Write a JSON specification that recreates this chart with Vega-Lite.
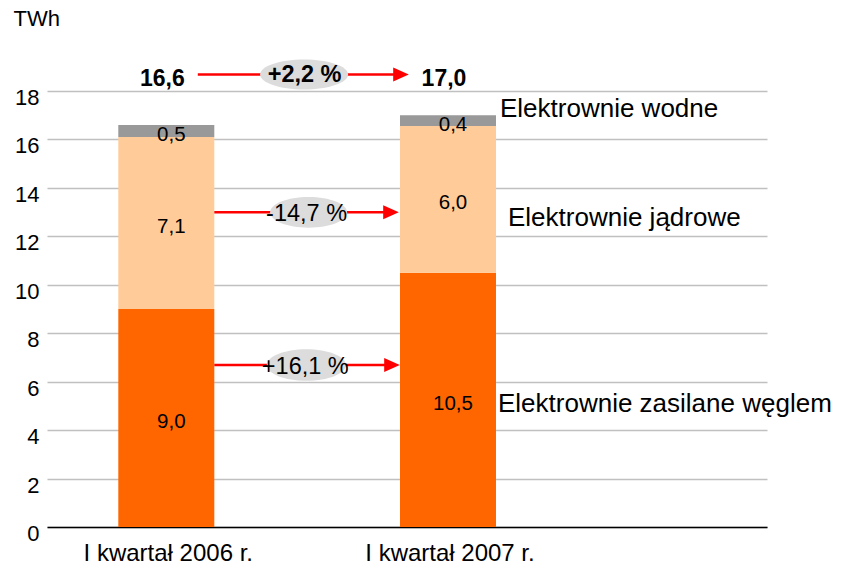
{
  "$schema": "https://vega.github.io/schema/vega-lite/v6.json",
  "width": 720,
  "height": 436,
  "autosize": {"type": "none"},
  "padding": {"top": 91, "left": 47, "right": 75, "bottom": 40},
  "background": "white",
  "config": {
    "view": {"stroke": null},
    "font": "Liberation Sans",
    "text": {"font": "Liberation Sans", "color": "#000000"}
  },
  "datasets": {
    "bars": [
      {"period": "I kwartał 2006 r.", "series": "Elektrownie zasilane węglem", "order": 1, "value": 9.0, "label": "9,0"},
      {"period": "I kwartał 2006 r.", "series": "Elektrownie jądrowe", "order": 2, "value": 7.1, "label": "7,1"},
      {"period": "I kwartał 2006 r.", "series": "Elektrownie wodne", "order": 3, "value": 0.5, "label": "0,5"},
      {"period": "I kwartał 2007 r.", "series": "Elektrownie zasilane węglem", "order": 1, "value": 10.5, "label": "10,5"},
      {"period": "I kwartał 2007 r.", "series": "Elektrownie jądrowe", "order": 2, "value": 6.05, "label": "6,0"},
      {"period": "I kwartał 2007 r.", "series": "Elektrownie wodne", "order": 3, "value": 0.45, "label": "0,4"}
    ],
    "totals": [
      {"period": "I kwartał 2006 r.", "total": "16,6"},
      {"period": "I kwartał 2007 r.", "total": "17,0"}
    ],
    "changes": [
      {"key": "total", "from": "I kwartał 2006 r.", "to": "I kwartał 2007 r.", "change": "+2,2 %"},
      {"key": "nuclear", "from": "I kwartał 2006 r.", "to": "I kwartał 2007 r.", "change": "-14,7 %"},
      {"key": "coal", "from": "I kwartał 2006 r.", "to": "I kwartał 2007 r.", "change": "+16,1 %"}
    ],
    "series": [
      {"period": "I kwartał 2007 r.", "name": "Elektrownie wodne"},
      {"period": "I kwartał 2007 r.", "name": "Elektrownie jądrowe"},
      {"period": "I kwartał 2007 r.", "name": "Elektrownie zasilane węglem"}
    ]
  },
  "encoding": {
    "x": {
      "field": "period",
      "type": "nominal",
      "scale": {"type": "band", "domain": ["I kwartał 2006 r.", "I kwartał 2007 r."], "paddingInner": 0.6592, "paddingOuter": 0.6076, "align": 0.2083, "round": false},
      "axis": {
        "title": null,
        "labelAngle": 0,
        "labelFontSize": 24,
        "labelColor": "#000000",
        "labelFont": "Liberation Sans",
        "labelPadding": 14,
        "labelBaseline": "top",
        "labelOffset": 2,
        "ticks": false,
        "domainColor": "#000000",
        "domainWidth": 1.5,
        "grid": false
      }
    }
  },
  "layer": [
    {
      "data": {"name": "bars"},
      "mark": {"type": "bar"},
      "encoding": {
        "y": {
          "field": "value",
          "type": "quantitative",
          "stack": "zero",
          "scale": {"domain": [0, 18], "nice": false},
          "axis": {
            "values": [0, 2, 4, 6, 8, 10, 12, 14, 16, 18],
            "title": "TWh",
            "titleAngle": 0,
            "titleAlign": "left",
            "titleBaseline": "top",
            "titleX": -34,
            "titleY": -82.5,
            "titleFontSize": 22,
            "titleFontWeight": "normal",
            "titleFont": "Liberation Sans",
            "titleColor": "#000000",
            "labelFontSize": 22,
            "labelFont": "Liberation Sans",
            "labelColor": "#000000",
            "labelPadding": 8,
            "labelOffset": 6.5,
            "ticks": false,
            "domain": false,
            "gridColor": "#c0c0c0",
            "gridWidth": 1.3
          }
        },
        "order": {"field": "order", "type": "quantitative"},
        "color": {
          "field": "series",
          "type": "nominal",
          "scale": {"domain": ["Elektrownie zasilane węglem", "Elektrownie jądrowe", "Elektrownie wodne"], "range": ["#ff6600", "#ffcc99", "#999999"]},
          "legend": null
        }
      }
    },
    {
      "data": {"name": "bars"},
      "transform": [
        {"stack": "value", "groupby": ["period"], "sort": [{"field": "order"}], "as": ["y0", "y1"]},
        {"calculate": "(datum.y0 + datum.y1) / 2", "as": "mid"}
      ],
      "mark": {"type": "text", "fontSize": 20.5, "dx": 5, "dy": 4, "baseline": "middle", "align": "center"},
      "encoding": {
        "y": {"field": "mid", "type": "quantitative"},
        "text": {"field": "label"}
      }
    },
    {
      "data": {"name": "totals"},
      "mark": {"type": "text", "fontSize": 23, "fontWeight": "bold", "dx": -4, "baseline": "middle", "align": "center"},
      "encoding": {
        "y": {"datum": 18.5, "type": "quantitative"},
        "text": {"field": "total"}
      }
    },
    {
      "data": {"name": "series"},
      "transform": [{"filter": "datum.name === 'Elektrownie wodne'"}],
      "mark": {"type": "text", "fontSize": 26, "dx": 52, "align": "left", "baseline": "middle"},
      "encoding": {"y": {"datum": 17.25, "type": "quantitative"}, "text": {"field": "name"}}
    },
    {
      "data": {"name": "series"},
      "transform": [{"filter": "datum.name === 'Elektrownie jądrowe'"}],
      "mark": {"type": "text", "fontSize": 26, "dx": 60, "align": "left", "baseline": "middle"},
      "encoding": {"y": {"datum": 12.76, "type": "quantitative"}, "text": {"field": "name"}}
    },
    {
      "data": {"name": "series"},
      "transform": [{"filter": "datum.name === 'Elektrownie zasilane węglem'"}],
      "mark": {"type": "text", "fontSize": 26, "dx": 50, "align": "left", "baseline": "middle"},
      "encoding": {"y": {"datum": 5.09, "type": "quantitative"}, "text": {"field": "name"}}
    },
    {
      "data": {"name": "changes"},
      "transform": [{"filter": "datum.key === 'total'"}],
      "encoding": {"y": {"datum": 18.68, "type": "quantitative"}},
      "layer": [
        {"mark": {"type": "rule", "color": "#ff0000", "strokeWidth": 2.5, "xOffset": 31.5, "x2Offset": -50},
         "encoding": {"x": {"field": "from", "type": "nominal"}, "x2": {"field": "to"}}},
        {"mark": {"type": "point", "shape": "M-1,-0.9L1,0L-1,0.9Z", "filled": true, "opacity": 1, "color": "#ff0000", "size": 243, "xOffset": -47},
         "encoding": {"x": {"field": "to", "type": "nominal"}}},
        {"mark": {"type": "point", "shape": "M-1,0C-1,-0.1878,-0.5523,-0.34,0,-0.34C0.5523,-0.34,1,-0.1878,1,0C1,0.1878,0.5523,0.34,0,0.34C-0.5523,0.34,-1,0.1878,-1,0Z", "filled": true, "opacity": 1, "color": "#dcdcdc", "size": 7744, "xOffset": 137.8},
         "encoding": {"x": {"field": "from", "type": "nominal"}}},
        {"mark": {"type": "text", "fontSize": 23.5, "fontWeight": "bold", "dx": 138.3, "dy": 0, "baseline": "middle", "align": "center"},
         "encoding": {"x": {"field": "from", "type": "nominal"}, "text": {"field": "change"}}}
      ]
    },
    {
      "data": {"name": "changes"},
      "transform": [{"filter": "datum.key === 'nuclear'"}],
      "encoding": {"y": {"datum": 12.99, "type": "quantitative"}},
      "layer": [
        {"mark": {"type": "rule", "color": "#ff0000", "strokeWidth": 2.5, "xOffset": 48, "x2Offset": -60},
         "encoding": {"x": {"field": "from", "type": "nominal"}, "x2": {"field": "to"}}},
        {"mark": {"type": "point", "shape": "M-1,-0.9L1,0L-1,0.9Z", "filled": true, "opacity": 1, "color": "#ff0000", "size": 243, "xOffset": -57},
         "encoding": {"x": {"field": "to", "type": "nominal"}}},
        {"mark": {"type": "point", "shape": "M-1,0C-1,-0.2209,-0.5523,-0.4,0,-0.4C0.5523,-0.4,1,-0.2209,1,0C1,0.2209,0.5523,0.4,0,0.4C-0.5523,0.4,-1,0.2209,-1,0Z", "filled": true, "opacity": 1, "color": "#dcdcdc", "size": 5929, "xOffset": 142.3},
         "encoding": {"x": {"field": "from", "type": "nominal"}}},
        {"mark": {"type": "text", "fontSize": 23.5, "dx": 140.3, "dy": 1.5, "baseline": "middle", "align": "center"},
         "encoding": {"x": {"field": "from", "type": "nominal"}, "text": {"field": "change"}}}
      ]
    },
    {
      "data": {"name": "changes"},
      "transform": [{"filter": "datum.key === 'coal'"}],
      "encoding": {"y": {"datum": 6.69, "type": "quantitative"}},
      "layer": [
        {"mark": {"type": "rule", "color": "#ff0000", "strokeWidth": 2.5, "xOffset": 48, "x2Offset": -60},
         "encoding": {"x": {"field": "from", "type": "nominal"}, "x2": {"field": "to"}}},
        {"mark": {"type": "point", "shape": "M-1,-0.9L1,0L-1,0.9Z", "filled": true, "opacity": 1, "color": "#ff0000", "size": 243, "xOffset": -56},
         "encoding": {"x": {"field": "to", "type": "nominal"}}},
        {"mark": {"type": "point", "shape": "M-1,0C-1,-0.2209,-0.5523,-0.4,0,-0.4C0.5523,-0.4,1,-0.2209,1,0C1,0.2209,0.5523,0.4,0,0.4C-0.5523,0.4,-1,0.2209,-1,0Z", "filled": true, "opacity": 1, "color": "#dcdcdc", "size": 6241, "xOffset": 140},
         "encoding": {"x": {"field": "from", "type": "nominal"}}},
        {"mark": {"type": "text", "fontSize": 23.5, "dx": 139, "dy": 2, "baseline": "middle", "align": "center"},
         "encoding": {"x": {"field": "from", "type": "nominal"}, "text": {"field": "change"}}}
      ]
    }
  ]
}
